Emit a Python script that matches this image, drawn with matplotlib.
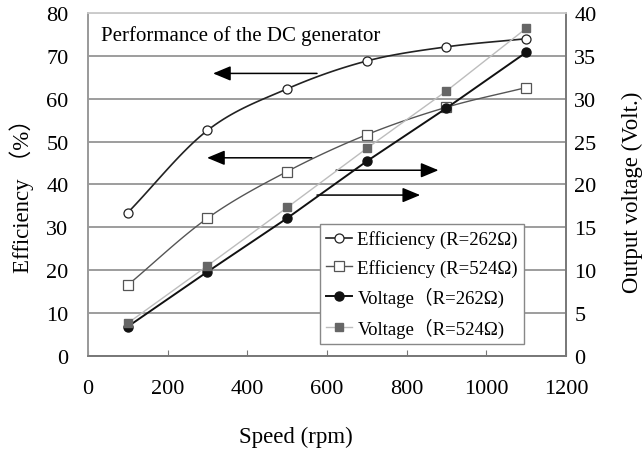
import numpy as np
import matplotlib
matplotlib.use("Agg")
import matplotlib.pyplot as plt

# values
speed = [100, 300, 500, 700, 900, 1100]  # rpm
eff_262 = [33.4, 52.6, 62.3, 68.8, 72.1, 74.0]  # %
eff_524 = [16.5, 32.1, 43.0, 51.6, 58.0, 62.6]  # %
volt_262 = [3.4, 9.8, 16.05, 22.7, 28.9, 35.4]  # V
volt_524 = [3.8, 10.5, 17.3, 24.2, 30.9, 38.2]  # V

x_ticks = [0, 200, 400, 600, 800, 1000, 1200]
eff_ticks = [0, 10, 20, 30, 40, 50, 60, 70, 80]
volt_ticks = [0, 5, 10, 15, 20, 25, 30, 35, 40]

serif = ["Liberation Serif", "Noto Sans CJK JP", "DejaVu Sans"]
plt.rcParams["font.family"] = serif


def smooth(xs, ys, n=20):
    # catmull-rom curve through the points, like the spreadsheet "smoothed line"
    xs = np.asarray(xs, float)
    ys = np.asarray(ys, float)
    px = np.concatenate([[2 * xs[0] - xs[1]], xs, [2 * xs[-1] - xs[-2]]])
    py = np.concatenate([[2 * ys[0] - ys[1]], ys, [2 * ys[-1] - ys[-2]]])
    out_x, out_y = [], []
    for i in range(1, len(px) - 2):
        t = np.linspace(0, 1, n, endpoint=False)
        for p, out in ((px, out_x), (py, out_y)):
            p0, p1, p2, p3 = p[i - 1], p[i], p[i + 1], p[i + 2]
            out.extend(0.5 * (2 * p1 + (-p0 + p2) * t
                              + (2 * p0 - 5 * p1 + 4 * p2 - p3) * t ** 2
                              + (-p0 + 3 * p1 - 3 * p2 + p3) * t ** 3))
    out_x.append(xs[-1])
    out_y.append(ys[-1])
    return out_x, out_y, n


fig = plt.figure(figsize=(6.44, 4.52), dpi=100)
ax = fig.add_axes([0.1366, 0.2108, 0.7422, 0.7582])
ax2 = ax.twinx()

# efficiency curves (left axis)
sx, sy, step = smooth(speed, eff_262)
l1, = ax.plot(sx, sy, color="#222222", lw=1.2, marker="o", markevery=step,
              ms=6.5, mfc="white", mec="#222222", mew=0.9,
              label="Efficiency (R=262Ω)")
sx, sy, step = smooth(speed, eff_524)
l2, = ax.plot(sx, sy, color="#555555", lw=1.0, marker="s", markevery=step,
              ms=6.5, mfc="white", mec="#555555", mew=0.9,
              label="Efficiency (R=524Ω)")

# voltage lines (right axis)
l3, = ax2.plot(speed, volt_262, color="#111111", lw=1.4, marker="o", ms=6.5,
               mfc="#111111", mec="#111111", label="Voltage（R=262Ω)")
l4, = ax2.plot(speed, volt_524, color="#bdbdbd", lw=1.0, marker="s", ms=6,
               mfc="#666666", mec="#666666", label="Voltage（R=524Ω)")

ax.set_xlim(0, 1200)
ax.set_ylim(0, 80)
ax2.set_ylim(0, 40)
ax.set_xticks(x_ticks)
ax.set_yticks(eff_ticks)
ax2.set_yticks(volt_ticks)

ax.yaxis.grid(True, color="#8c8c8c", lw=1.2)
ax.set_axisbelow(True)

for a in (ax, ax2):
    a.spines["top"].set_color("#cccccc")
    a.spines["left"].set_color("#999999")
    a.spines["bottom"].set_color("#777777")
    a.spines["right"].set_color("#777777")
    for s in a.spines.values():
        s.set_linewidth(1.2)

ax.tick_params(axis="x", direction="in", length=4, color="#777777",
               labelsize=16, pad=17)
ax.tick_params(axis="y", length=0, labelsize=16, pad=14)
ax2.tick_params(axis="y", length=0, labelsize=16, pad=6)

# axis titles placed where the reference has them
fig.text(296 / 644, 1 - 437 / 452, "Speed (rpm)", fontsize=16.5,
         ha="center", va="center")
fig.text(22 / 644, 1 - 190 / 452, "Efficiency （%）", fontsize=16.5,
         rotation=90, ha="center", va="center")
fig.text(632 / 644, 1 - 192 / 452, "Output voltage (Volt.)", fontsize=16.5,
         rotation=90, ha="center", va="center")

ax.text(0.027, 0.935, "Performance of the DC generator", transform=ax.transAxes,
        fontsize=15, va="center", ha="left")

# arrows pointing to the axis each curve belongs to
arrow_kw = dict(arrowstyle="-|>,head_length=0.72,head_width=0.3",
                color="black", lw=1.1, mutation_scale=15,
                shrinkA=0, shrinkB=0)
ax.annotate("", xy=(314, 65.9), xytext=(575, 65.9), arrowprops=arrow_kw)
ax.annotate("", xy=(299, 46.2), xytext=(562, 46.2), arrowprops=arrow_kw)
ax.annotate("", xy=(880, 43.3), xytext=(623, 43.3), arrowprops=arrow_kw)
ax.annotate("", xy=(834, 37.5), xytext=(575, 37.5), arrowprops=arrow_kw)

leg = ax2.legend(handles=[l1, l2, l3, l4], loc="lower left",
                 bbox_to_anchor=(0.485, 0.034), borderaxespad=0,
                 fancybox=False, framealpha=1, edgecolor="#888888",
                 fontsize=13.5, handlelength=1.35, handletextpad=0.3,
                 labelspacing=0.55, borderpad=0.35)
leg.get_frame().set_linewidth(1.0)

fig.savefig("out.png", dpi=100)
